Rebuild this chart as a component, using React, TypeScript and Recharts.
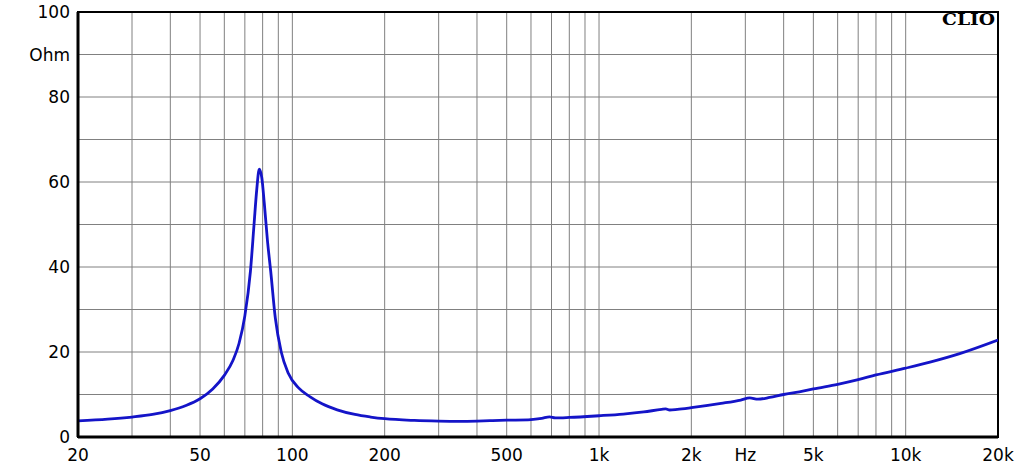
import React from "react";
import { LineChart, Line, XAxis, YAxis, CartesianGrid, ReferenceArea } from "recharts";

const freqs = [20, 25, 30, 35, 40, 45, 50, 55, 60, 64, 67, 70, 73, 75, 76.5, 78, 79.5, 81, 83, 85, 88, 92, 97, 105, 114, 125, 140, 160, 180, 200, 250, 300, 350, 400, 450, 500, 600, 650, 690, 720, 800, 1000, 1200, 1400, 1600, 1650, 1700, 1800, 2000, 2500, 2900, 3100, 3300, 3600, 4000, 4500, 5000, 6000, 7000, 8000, 10000, 12000, 15000, 20000];
const ohms = [3.8, 4.2, 4.7, 5.3, 6.2, 7.4, 9.0, 11.3, 14.5, 18.0, 22.0, 28.5, 39, 50, 58, 63, 61, 55, 46, 39, 28, 20, 15, 11.5, 9.5, 7.8, 6.4, 5.3, 4.7, 4.3, 3.9, 3.75, 3.7, 3.75, 3.85, 3.95, 4.1, 4.4, 4.75, 4.5, 4.6, 5.0, 5.4, 5.9, 6.5, 6.6, 6.35, 6.5, 6.9, 7.9, 8.7, 9.2, 8.9, 9.3, 10.0, 10.6, 11.3, 12.4, 13.5, 14.6, 16.2, 17.6, 19.6, 22.8];

const xTicks = [20, 30, 40, 50, 60, 70, 80, 90, 100, 200, 300, 400, 500, 600, 700, 800, 900, 1000, 2000, 3000, 4000, 5000, 6000, 7000, 8000, 9000, 10000, 20000];
const xLabels: Record<number, string> = { 20: "20", 50: "50", 100: "100", 200: "200", 500: "500", 1000: "1k", 2000: "2k", 3000: "Hz", 5000: "5k", 10000: "10k", 20000: "20k" };
const yTicks = [0, 10, 20, 30, 40, 50, 60, 70, 80, 90, 100];
const yLabels: Record<number, string> = { 0: "0", 20: "20", 40: "40", 60: "60", 80: "80", 90: "Ohm", 100: "100" };
const minorTicks = [2, 4, 6, 8, 12, 14, 16, 18, 22, 24, 26, 28, 32, 34, 36, 38, 42, 44, 46, 48, 52, 54, 56, 58, 62, 64, 66, 68, 72, 74, 76, 78, 82, 84, 86, 88, 92, 94, 96, 98];

const data = freqs.map((f, i) => ({ f, z: ohms[i] }));

const tickStyle = { fill: "#000", fontSize: 17, fontFamily: "DejaVu Sans" };
const blank = () => "";

export default function App() {
  return (
    <div style={{ position: "absolute", left: 0, top: 0, width: 1024, height: 464, background: "#fff" }}>
      <LineChart width={1024} height={464} data={data} margin={{ top: 12, right: 26, left: 0, bottom: 0 }}>
        <CartesianGrid stroke="#808080" strokeWidth={1} />
        <XAxis
          dataKey="f"
          type="number"
          scale="log"
          domain={[20, 20000]}
          ticks={xTicks}
          interval={0}
          tickFormatter={(v: number) => xLabels[v] ?? ""}
          tickLine={false}
          tickSize={0}
          tickMargin={12}
          height={27}
          axisLine={{ stroke: "#000", strokeWidth: 3 }}
          tick={tickStyle}
          allowDataOverflow
        />
        <YAxis
          type="number"
          domain={[0, 100]}
          ticks={yTicks}
          interval={0}
          tickFormatter={(v: number) => yLabels[v] ?? ""}
          tickLine={false}
          tickSize={0}
          tickMargin={8}
          width={78}
          axisLine={{ stroke: "#000", strokeWidth: 3 }}
          tick={tickStyle}
        />
        <YAxis
          yAxisId="minorL"
          orientation="left"
          type="number"
          domain={[0, 100]}
          ticks={minorTicks}
          interval={0}
          width={0}
          mirror
          tickSize={4}
          tickLine={{ stroke: "#999", strokeWidth: 1 }}
          axisLine={false}
          tickFormatter={blank}
        />
        <YAxis
          yAxisId="minorR"
          orientation="right"
          type="number"
          domain={[0, 100]}
          ticks={minorTicks}
          interval={0}
          width={0}
          mirror
          tickSize={4}
          tickLine={{ stroke: "#999", strokeWidth: 1 }}
          axisLine={false}
          tickFormatter={blank}
        />
        <ReferenceArea x1={20} x2={20000} y1={0} y2={100} fill="none" stroke="#000" strokeWidth={2} ifOverflow="visible" />
        <Line type="monotone" dataKey="z" stroke="#1414c8" strokeWidth={2.8} dot={false} isAnimationActive={false} />
      </LineChart>
      <div style={{ position: "absolute", left: 942, top: 9, fontFamily: "DejaVu Serif", fontWeight: "bold", fontSize: 17, color: "#000", transform: "scaleX(1.1)", transformOrigin: "left top", whiteSpace: "nowrap" }}>
        CLIO
      </div>
    </div>
  );
}
